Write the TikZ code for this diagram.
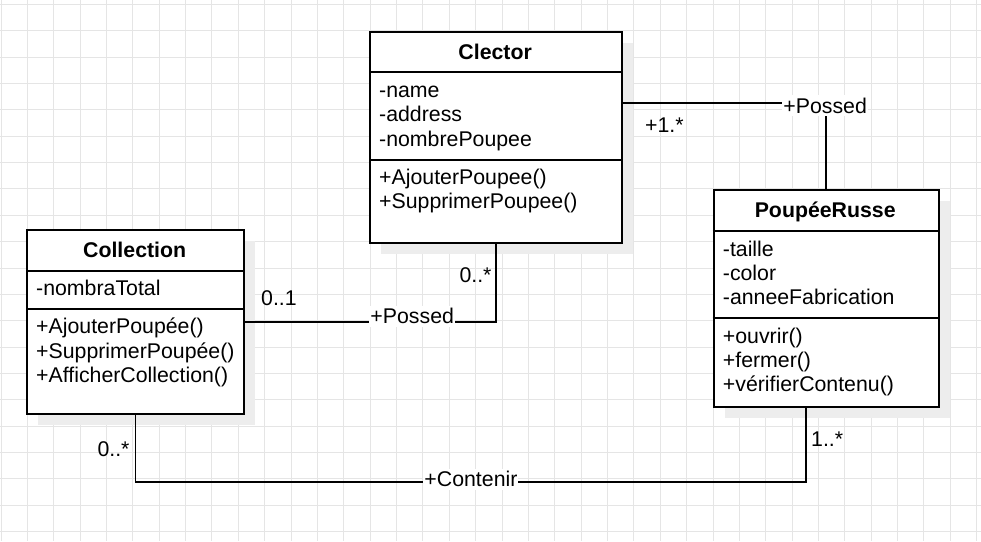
\documentclass[tikz,border=0pt]{standalone}
\usepackage{fontspec}
\setmainfont{Liberation Sans}
\usetikzlibrary{calc,shadows}
\begin{document}
\begin{tikzpicture}[x=1pt,y=-1pt,
  every node/.style={font=\fontsize{21.3}{24.3}\selectfont, text=black},
  gridl/.style={draw=black!10, line width=1pt},
  cls/.style={draw=black, fill=white, line width=1.8pt, inner sep=0pt, anchor=north west,
    drop shadow={shadow xshift=11pt, shadow yshift=-11pt, fill=black!7, opacity=1}},
  sep/.style={draw=black, line width=1.8pt},
  ttl/.style={anchor=base, inner sep=0pt, font=\fontsize{21.3}{24.3}\selectfont\bfseries},
  mem/.style={anchor=base west, inner sep=0pt},
  assoc/.style={draw=black, line width=1.8pt},
  lbl/.style={fill=white, inner xsep=1pt, inner ysep=3pt, text height=15pt, text depth=0pt},
  mult/.style={anchor=base west, inner sep=0pt}
]
\useasboundingbox (0,0) rectangle (981,541);
\fill[white] (0,0) rectangle (981,541);
\foreach \i in {0,...,37} \draw[gridl] ({1+\i*26.37},0) -- ({1+\i*26.37},541);
\foreach \j in {0,...,20} \draw[gridl] (0,{4.3+\j*26.37}) -- (981,{4.3+\j*26.37});

% Clector
\node[cls, minimum width=251.7pt, minimum height=211pt] (clector) at (369.3,30.7) {};
\draw[sep] ($(clector.north west)+(0,41.6)$) -- ($(clector.north east)+(0,41.6)$);
\draw[sep] ($(clector.north west)+(0,129)$) -- ($(clector.north east)+(0,129)$);
\node[ttl] (clT) at (495.15,59.3) {Clector};
\node[mem] (clA1) at (379,97.4) {-name};
\node[mem] (clA2) at (379,121.7) {-address};
\node[mem] (clA3) at (379,146.0) {-nombrePoupee};
\node[mem] (clM1) at (379,184.6) {+AjouterPoupee()};
\node[mem] (clM2) at (379,208.9) {+SupprimerPoupee()};

% Collection
\node[cls, minimum width=217.3pt, minimum height=184pt] (collection) at (26,229.3) {};
\draw[sep] ($(collection.north west)+(0,41.4)$) -- ($(collection.north east)+(0,41.4)$);
\draw[sep] ($(collection.north west)+(0,79.4)$) -- ($(collection.north east)+(0,79.4)$);
\node[ttl] (coT) at (134.65,257.3) {Collection};
\node[mem] (coA1) at (36,295.7) {-nombraTotal};
\node[mem] (coM1) at (36,333.7) {+AjouterPoupée()};
\node[mem] (coM2) at (36,358.0) {+SupprimerPoupée()};
\node[mem] (coM3) at (36,382.3) {+AfficherCollection()};

% PoupeeRusse
\node[cls, minimum width=225pt, minimum height=216.4pt] (poupee) at (712.7,189.3) {};
\draw[sep] ($(poupee.north west)+(0,41.7)$) -- ($(poupee.north east)+(0,41.7)$);
\draw[sep] ($(poupee.north west)+(0,128.7)$) -- ($(poupee.north east)+(0,128.7)$);
\node[ttl] (poT) at (825.2,217.3) {PoupéeRusse};
\node[mem] (poA1) at (722.7,256.0) {-taille};
\node[mem] (poA2) at (722.7,280.3) {-color};
\node[mem] (poA3) at (722.7,304.6) {-anneeFabrication};
\node[mem] (poM1) at (722.7,343.0) {+ouvrir()};
\node[mem] (poM2) at (722.7,367.3) {+fermer()};
\node[mem] (poM3) at (722.7,391.6) {+vérifierContenu()};

% Connectors
\draw[assoc] ($(clector.north east)+(0,72.6)$) -| node[lbl, pos=0.5, xshift=-1pt, yshift=-2.5pt] (possed1) {+Possed} (poupee.north);
\draw[assoc] (collection.east) -| node[lbl, pos=0.333, yshift=5.8pt] (possed2) {+Possed} (clector.south);
\coordinate (pb) at ($(poupee.south west)!0.413!(poupee.south east)$);
\draw[assoc] (collection.south) -- ++(0,66.7) -| node[lbl, pos=0.25, yshift=2.5pt] (contenir) {+Contenir} (pb);

% Multiplicities
\node[mult] (m1) at (645,132.7) {+1.*};
\node[mult] (m2) at (261,305.7) {0..1};
\node[mult] (m3) at (459.3,282.7) {0..*};
\node[mult] (m4) at (97.3,456.7) {0..*};
\node[mult] (m5) at (811,446.7) {1..*};
\end{tikzpicture}
\end{document}
